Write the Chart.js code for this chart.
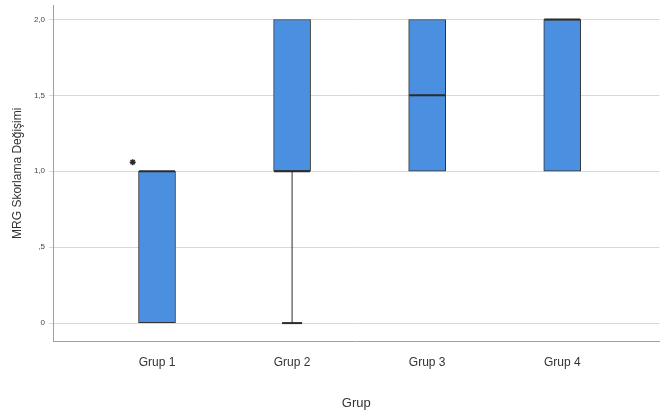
<!DOCTYPE html>
<html>
<head>
<meta charset="utf-8">
<script src="https://cdn.jsdelivr.net/npm/chart.js@4.4.0/dist/chart.umd.min.js"></script>
<style>
  html, body { margin: 0; padding: 0; background: #fff; }
  #wrap { width: 665px; height: 419px; }
</style>
</head>
<body>
<div id="wrap"><canvas id="chart" width="665" height="419"></canvas></div>
<script>
// Box plot values
const groups = ['Grup 1', 'Grup 2', 'Grup 3', 'Grup 4'];
const q1 = [0, 1, 1, 1];
const q3 = [1, 2, 2, 2];
const medians = [1, 1, 1.5, 2];
const whiskerLow = [0, 0, 1, 1];
const whiskerHigh = [1, 2, 2, 2];
const outlierX = [0.82];
const outlierY = [1.06];
const yTicks = [0, 0.5, 1, 1.5, 2];
const yTickLabels = ['0', ',5', '1,0', '1,5', '2,0'];

const boxFill = '#4a8fe0';
const lineDark = '#2b2b2b';

// medians, whiskers and caps drawn through the scales
const boxExtras = {
    id: 'boxExtras',
    afterDatasetsDraw(chart) {
        const { ctx, scales: { x, y } } = chart;
        ctx.save();
        ctx.strokeStyle = lineDark;
        groups.forEach((g, i) => {
            const cx = x.getPixelForValue(i + 1);
            const half = 18;
            const capHalf = 10;
            // whiskers
            ctx.lineWidth = 1;
            if (whiskerLow[i] < q1[i]) {
                ctx.beginPath();
                ctx.moveTo(cx, y.getPixelForValue(q1[i]));
                ctx.lineTo(cx, y.getPixelForValue(whiskerLow[i]));
                ctx.stroke();
                ctx.lineWidth = 2;
                ctx.beginPath();
                ctx.moveTo(cx - capHalf, y.getPixelForValue(whiskerLow[i]));
                ctx.lineTo(cx + capHalf, y.getPixelForValue(whiskerLow[i]));
                ctx.stroke();
            }
            ctx.lineWidth = 1;
            if (whiskerHigh[i] > q3[i]) {
                ctx.beginPath();
                ctx.moveTo(cx, y.getPixelForValue(q3[i]));
                ctx.lineTo(cx, y.getPixelForValue(whiskerHigh[i]));
                ctx.stroke();
                ctx.lineWidth = 2;
                ctx.beginPath();
                ctx.moveTo(cx - capHalf, y.getPixelForValue(whiskerHigh[i]));
                ctx.lineTo(cx + capHalf, y.getPixelForValue(whiskerHigh[i]));
                ctx.stroke();
            }
            // median
            ctx.lineWidth = 2;
            const my = y.getPixelForValue(medians[i]);
            ctx.beginPath();
            ctx.moveTo(cx - half, my);
            ctx.lineTo(cx + half, my);
            ctx.stroke();
        });
        ctx.restore();
    }
};

const ctx = document.getElementById('chart').getContext('2d');

new Chart(ctx, {
    type: 'bar',
    data: {
        datasets: [{
            label: 'box',
            data: groups.map((g, i) => ({ x: i + 1, y: [q1[i], q3[i]] })),
            backgroundColor: boxFill,
            borderColor: '#333',
            borderWidth: 1,
            borderSkipped: false,
            barThickness: 37
        }, {
            type: 'scatter',
            label: 'outlier',
            data: outlierX.map((v, i) => ({ x: v, y: outlierY[i] })),
            pointStyle: 'star',
            radius: 3,
            borderColor: lineDark,
            backgroundColor: lineDark,
            borderWidth: 1.5
        }]
    },
    options: {
        responsive: false,
        animation: false,
        layout: { padding: { top: 0, right: -5, left: 0, bottom: 0 } },
        plugins: {
            legend: { display: false },
            tooltip: { enabled: false }
        },
        scales: {
            x: {
                type: 'linear',
                offset: false,
                min: 0.23,
                max: 4.72,
                grid: { display: false },
                border: { color: '#a0a0a0', width: 1 },
                afterBuildTicks: (axis) => { axis.ticks = groups.map((g, i) => ({ value: i + 1 })); },
                afterFit: (axis) => { axis.height = 78; axis.paddingRight = 0; axis.paddingLeft = 0; },
                ticks: {
                    color: '#333',
                    padding: 6,
                    font: { family: 'Liberation Sans', size: 12 },
                    callback: (v) => groups[v - 1] || ''
                },
                title: {
                    display: true,
                    text: 'Grup',
                    color: '#333',
                    padding: { top: 4, bottom: 8 },
                    font: { family: 'Liberation Sans', size: 13 }
                }
            },
            y: {
                min: -0.118,
                max: 2.092,
                grid: { color: '#d8d8d8', drawTicks: true, tickLength: 4, tickColor: '#d8d8d8' },
                border: { color: '#a0a0a0', width: 1 },
                afterBuildTicks: (axis) => { axis.ticks = yTicks.map(v => ({ value: v })); },
                afterFit: (axis) => { axis.width = 53; axis.paddingTop = 0; axis.paddingBottom = 0; },
                ticks: {
                    color: '#444',
                    padding: 4,
                    font: { family: 'Liberation Sans', size: 8 },
                    callback: (v) => yTickLabels[yTicks.indexOf(v)]
                },
                title: {
                    display: true,
                    text: 'MRG Skorlama Değişimi',
                    color: '#333',
                    padding: { top: 10, bottom: 0 },
                    font: { family: 'Liberation Sans', size: 12 }
                }
            }
        }
    },
    plugins: [boxExtras]
});
</script>
</body>
</html>
